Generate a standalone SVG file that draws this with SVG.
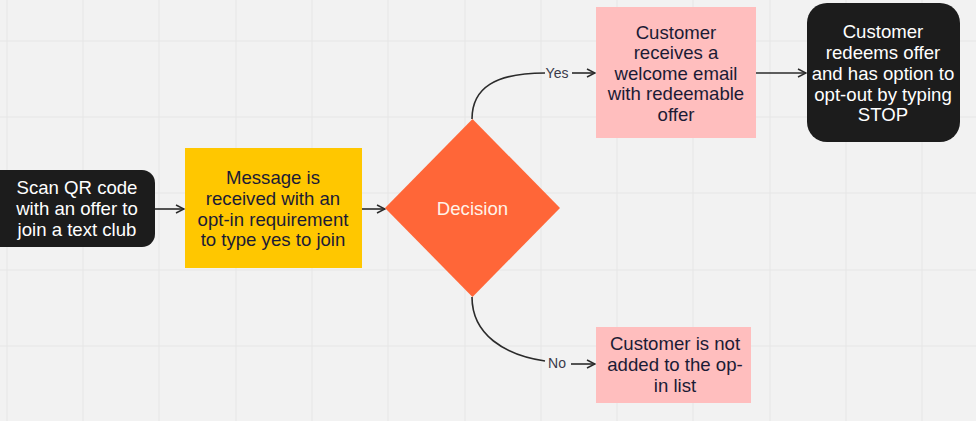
<svg xmlns="http://www.w3.org/2000/svg" width="976" height="421" viewBox="0 0 976 421">
<defs>
<style>
.grid{stroke:#e6e6e6;stroke-width:1}
.t{font-family:"Liberation Sans",Arial,sans-serif;font-size:18.6px;text-anchor:middle}
.w{fill:#ffffff}
.d{fill:#1b1b35}
.lbl{font-family:"Liberation Sans",Arial,sans-serif;font-size:14px;fill:#3a3a4a;text-anchor:middle}
.c{fill:none;stroke:#2b2b2b;stroke-width:1.6}
</style>
<marker id="ah" viewBox="0 0 10 10" refX="9" refY="5" markerWidth="10" markerHeight="10" markerUnits="userSpaceOnUse" orient="auto">
<path d="M1,1 L9,5 L1,9" fill="none" stroke="#2b2b2b" stroke-width="1.5"/>
</marker>
</defs>
<rect width="976" height="421" fill="#f2f2f2"/>
<g id="grid">
<line class="grid" x1="7" y1="0" x2="7" y2="421"/>
<line class="grid" x1="83" y1="0" x2="83" y2="421"/>
<line class="grid" x1="159" y1="0" x2="159" y2="421"/>
<line class="grid" x1="236" y1="0" x2="236" y2="421"/>
<line class="grid" x1="312" y1="0" x2="312" y2="421"/>
<line class="grid" x1="388" y1="0" x2="388" y2="421"/>
<line class="grid" x1="465" y1="0" x2="465" y2="421"/>
<line class="grid" x1="541" y1="0" x2="541" y2="421"/>
<line class="grid" x1="617" y1="0" x2="617" y2="421"/>
<line class="grid" x1="693" y1="0" x2="693" y2="421"/>
<line class="grid" x1="770" y1="0" x2="770" y2="421"/>
<line class="grid" x1="846" y1="0" x2="846" y2="421"/>
<line class="grid" x1="922" y1="0" x2="922" y2="421"/>
<line class="grid" x1="0" y1="41" x2="976" y2="41"/>
<line class="grid" x1="0" y1="117" x2="976" y2="117"/>
<line class="grid" x1="0" y1="193" x2="976" y2="193"/>
<line class="grid" x1="0" y1="270" x2="976" y2="270"/>
<line class="grid" x1="0" y1="346" x2="976" y2="346"/>
</g>
<g id="connectors">
<line class="c" x1="155" y1="209" x2="184" y2="209" marker-end="url(#ah)"/>
<line class="c" x1="362" y1="209" x2="385" y2="209" marker-end="url(#ah)"/>
<path class="c" d="M472,119 C472,88 495,73 545,73"/>
<text class="lbl" x="557" y="78">Yes</text>
<line class="c" x1="572" y1="73" x2="595" y2="73" marker-end="url(#ah)"/>
<line class="c" x1="756" y1="73" x2="806" y2="73" marker-end="url(#ah)"/>
<path class="c" d="M472,297 C472,335 505,355 545,361"/>
<text class="lbl" x="557" y="368">No</text>
<line class="c" x1="571" y1="364" x2="595" y2="364" marker-end="url(#ah)"/>
</g>
<g id="n1">
<rect x="-12" y="170" width="167" height="77" rx="13" fill="#1c1c1c"/>
<text class="t w" x="77" y="194">Scan QR code</text>
<text class="t w" x="77" y="215">with an offer to</text>
<text class="t w" x="77" y="236">join a text club</text>
</g>
<g id="n2">
<rect x="185" y="148" width="177" height="120" fill="#ffc700"/>
<text class="t d" x="273" y="184">Message is</text>
<text class="t d" x="273" y="205">received with an</text>
<text class="t d" x="273" y="226">opt-in requirement</text>
<text class="t d" x="273" y="246">to type yes to join</text>
</g>
<g id="n3">
<polygon points="472.5,119 560,208 472.5,297 385,208" fill="#ff6638"/>
<text class="t" x="472.5" y="215" fill="#fff3e8">Decision</text>
</g>
<g id="n4">
<rect x="596" y="7" width="160" height="131" fill="#ffbebe"/>
<text class="t d" x="676" y="39">Customer</text>
<text class="t d" x="676" y="59">receives a</text>
<text class="t d" x="676" y="80">welcome email</text>
<text class="t d" x="676" y="100">with redeemable</text>
<text class="t d" x="676" y="121">offer</text>
</g>
<g id="n5">
<rect x="807" y="3" width="153" height="139" rx="20" fill="#1c1c1c"/>
<text class="t w" x="883" y="38">Customer</text>
<text class="t w" x="883" y="59">redeems offer</text>
<text class="t w" x="883" y="80">and has option to</text>
<text class="t w" x="883" y="101">opt-out by typing</text>
<text class="t w" x="883" y="121">STOP</text>
</g>
<g id="n6">
<rect x="596" y="327" width="155" height="76" fill="#ffbebe"/>
<text class="t d" x="675" y="350">Customer is not</text>
<text class="t d" x="675" y="371">added to the op-</text>
<text class="t d" x="675" y="392">in list</text>
</g>
</svg>
